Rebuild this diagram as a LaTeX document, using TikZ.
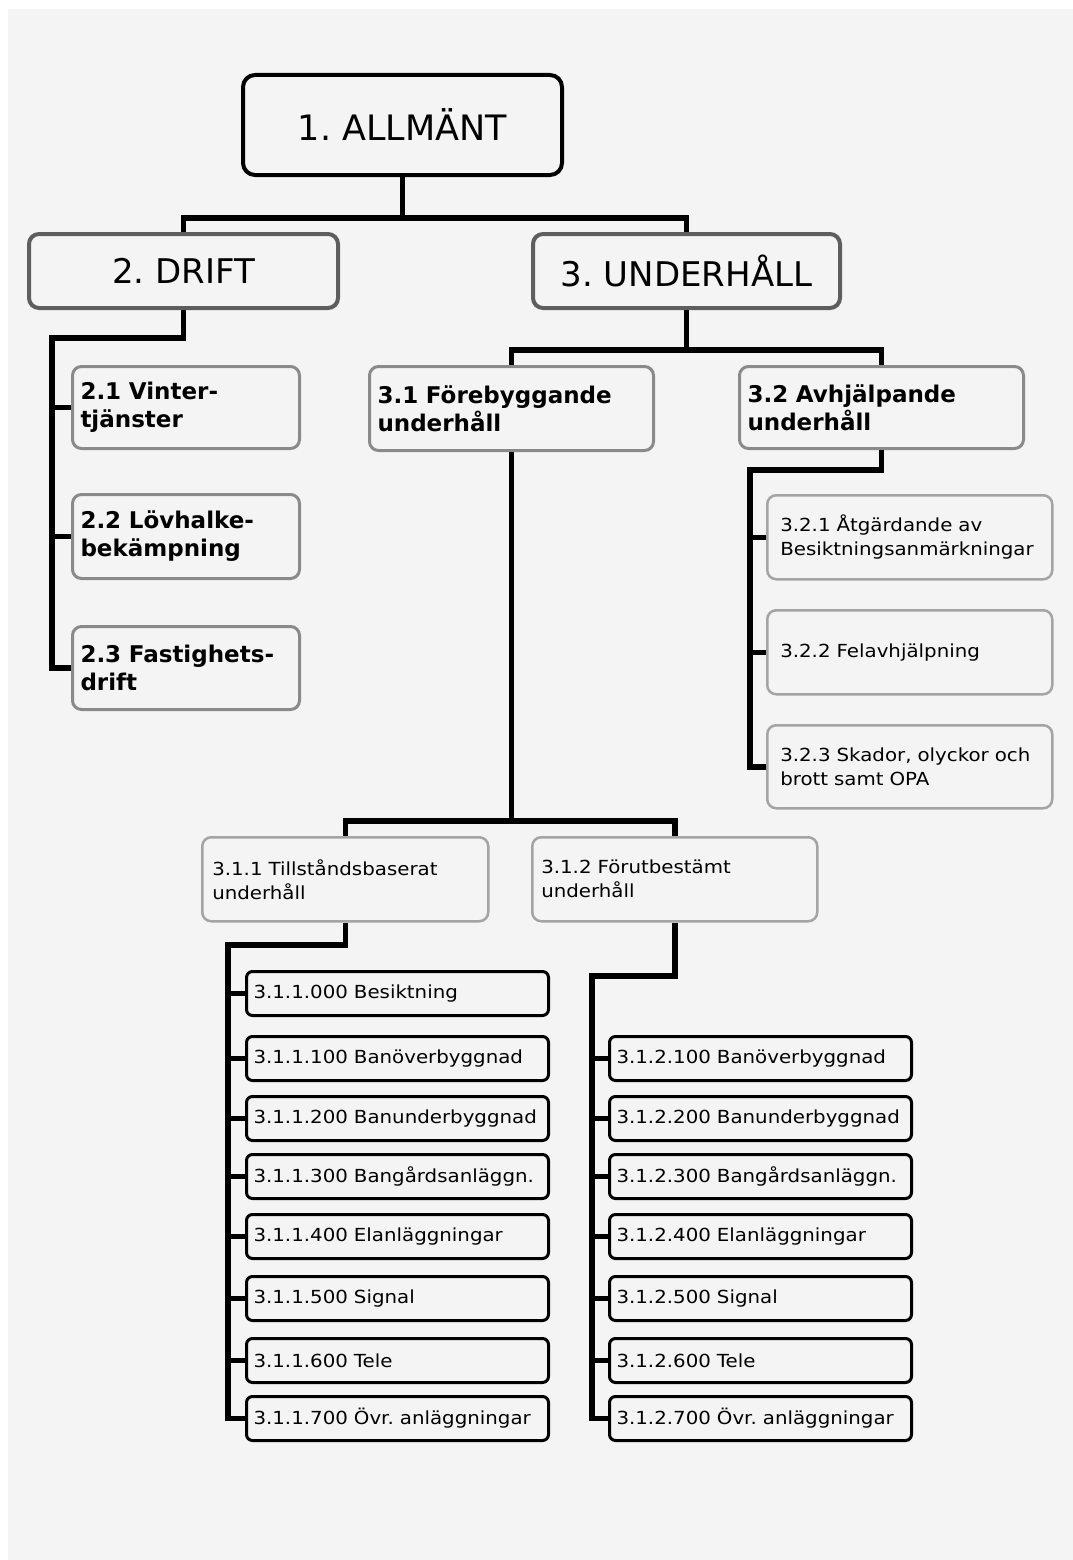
\documentclass[tikz,border=0pt]{standalone}
\usepackage{fontspec}
\setmainfont{DejaVu Sans}
\newfontfamily\smallfont[FakeStretch=1.1]{DejaVu Sans}
\usetikzlibrary{calc}
\frenchspacing

\definecolor{bgc}{HTML}{F4F4F4}
\definecolor{edgeA}{HTML}{5E5E5E}
\definecolor{edgeB}{HTML}{8A8A8A}
\definecolor{edgeC}{HTML}{A4A4A4}

\tikzset{
  base/.style={rectangle, draw, fill=bgc, inner sep=0pt, anchor=north west},
  topbox/.style={base, line width=4pt, draw=black, rounded corners=12pt,
    font=\fontsize{35}{40}\selectfont, minimum width=319pt, minimum height=100pt},
  mainbox/.style={base, line width=4pt, draw=edgeA, rounded corners=10pt,
    font=\fontsize{34}{40}\selectfont, minimum height=74pt},
  boldbox/.style={base, line width=3pt, draw=edgeB, rounded corners=9pt,
    font=\bfseries\fontsize{23}{28}\selectfont, align=left, inner xsep=8pt},
  subbox/.style={base, line width=2.5pt, draw=edgeC, rounded corners=9pt,
    font=\smallfont\fontsize{18}{24}\selectfont, align=left, minimum height=84pt},
  leaf/.style={base, line width=3pt, draw=black, rounded corners=6pt,
    font=\smallfont\fontsize{18}{22}\selectfont, align=left, inner xsep=7pt,
    text width=288pt, minimum height=44pt},
  conn/.style={line width=5.5pt, draw=black},
}

\begin{document}
\begin{tikzpicture}[x=1pt,y=-1pt]
  % page and grey canvas
  \useasboundingbox (0,0) rectangle (1073,1560);
  \fill[white] (0,0) rectangle (1073,1560);
  \fill[bgc] (8,9) rectangle (1073,1560);

  % level 1
  \node[topbox] (top) at (241,73) {1. ALLMÄNT};

  % level 2
  \node[mainbox, minimum width=309pt] (drift) at (27,232) {2. DRIFT};
  \node[mainbox, minimum width=307pt] (underh) at (531,232) {3. UNDERHÅLL};

  % operation branch
  \node[boldbox, text width=211pt, minimum height=82pt] (d1) at (71,365) {2.1 Vinter-\\tjänster};
  \node[boldbox, text width=211pt, minimum height=84pt] (d2) at (71,493) {2.2 Lövhalke-\\bekämpning};
  \node[boldbox, text width=211pt, minimum height=83pt] (d3) at (71,625) {2.3 Fastighets-\\drift};

  % maintenance branch
  \node[boldbox, text width=268pt, minimum height=84pt] (u1) at (368,365) {3.1 Förebyggande\\underhåll};
  \node[boldbox, text width=268pt, minimum height=82pt] (u2) at (738,365) {3.2 Avhjälpande\\underhåll};

  % corrective maintenance
  \node[subbox, inner xsep=13pt, text width=259pt] (a1) at (766,494) {3.2.1 Åtgärdande av\\Besiktningsanmärkningar};
  \node[subbox, inner xsep=13pt, text width=259pt] (a2) at (766,609) {3.2.2 Felavhjälpning};
  \node[subbox, inner xsep=13pt, text width=259pt, minimum height=83pt] (a3) at (766,724) {3.2.3 Skador, olyckor och\\brott samt OPA};

  % preventive maintenance
  \node[subbox, inner xsep=10pt, text width=266pt] (t1) at (201,836) {3.1.1 Tillståndsbaserat\\underhåll};
  \node[subbox, inner xsep=9pt, text width=267pt] (t2) at (531,836) {3.1.2 Förutbestämt\\underhåll};

  % condition based items
  \node[leaf] (l0) at (245,970)  {3.1.1.000 Besiktning};
  \node[leaf] (l1) at (245,1035) {3.1.1.100 Banöverbyggnad};
  \node[leaf] (l2) at (245,1095) {3.1.1.200 Banunderbyggnad};
  \node[leaf] (l3) at (245,1153) {3.1.1.300 Bangårdsanläggn.};
  \node[leaf] (l4) at (245,1213) {3.1.1.400 Elanläggningar};
  \node[leaf] (l5) at (245,1275) {3.1.1.500 Signal};
  \node[leaf] (l6) at (245,1337) {3.1.1.600 Tele};
  \node[leaf] (l7) at (245,1395) {3.1.1.700 Övr. anläggningar};

  % predetermined items
  \node[leaf] (r1) at (608,1035) {3.1.2.100 Banöverbyggnad};
  \node[leaf] (r2) at (608,1095) {3.1.2.200 Banunderbyggnad};
  \node[leaf] (r3) at (608,1153) {3.1.2.300 Bangårdsanläggn.};
  \node[leaf] (r4) at (608,1213) {3.1.2.400 Elanläggningar};
  \node[leaf] (r5) at (608,1275) {3.1.2.500 Signal};
  \node[leaf] (r6) at (608,1337) {3.1.2.600 Tele};
  \node[leaf] (r7) at (608,1395) {3.1.2.700 Övr. anläggningar};

  % connectors
  \draw[conn] (top.south) -- ++(0,41) -| (drift.north);
  \draw[conn] (top.south) -- ++(0,41) -| (underh.north);

  \coordinate (dbus) at (52,338);
  \draw[conn] (drift.south) |- (dbus) |- (d3.west);
  \foreach \n in {d1,d2} \draw[conn] (dbus |- \n.west) -- (\n.west);

  \draw[conn] (underh.south) -- ++(0,40) -| (u1.north);
  \draw[conn] (underh.south) -- ++(0,40) -| (u2.north);

  \coordinate (abus) at (750,470);
  \draw[conn] (u2.south) |- (abus) |- (a3.west);
  \foreach \n in {a1,a2} \draw[conn] (abus |- \n.west) -- (\n.west);

  \draw[conn] (u1.south) -- ++(0,369) -| (t1.north);
  \draw[conn] (u1.south) -- ++(0,369) -| (t2.north);

  \coordinate (lbus) at (228,945);
  \draw[conn] (t1.south) |- (lbus) |- (l7.west);
  \foreach \n in {l0,l1,l2,l3,l4,l5,l6} \draw[conn] (lbus |- \n.west) -- (\n.west);

  \coordinate (rbus) at (592,976);
  \draw[conn] (t2.south) |- (rbus) |- (r7.west);
  \foreach \n in {r1,r2,r3,r4,r5,r6} \draw[conn] (rbus |- \n.west) -- (\n.west);
\end{tikzpicture}
\end{document}
